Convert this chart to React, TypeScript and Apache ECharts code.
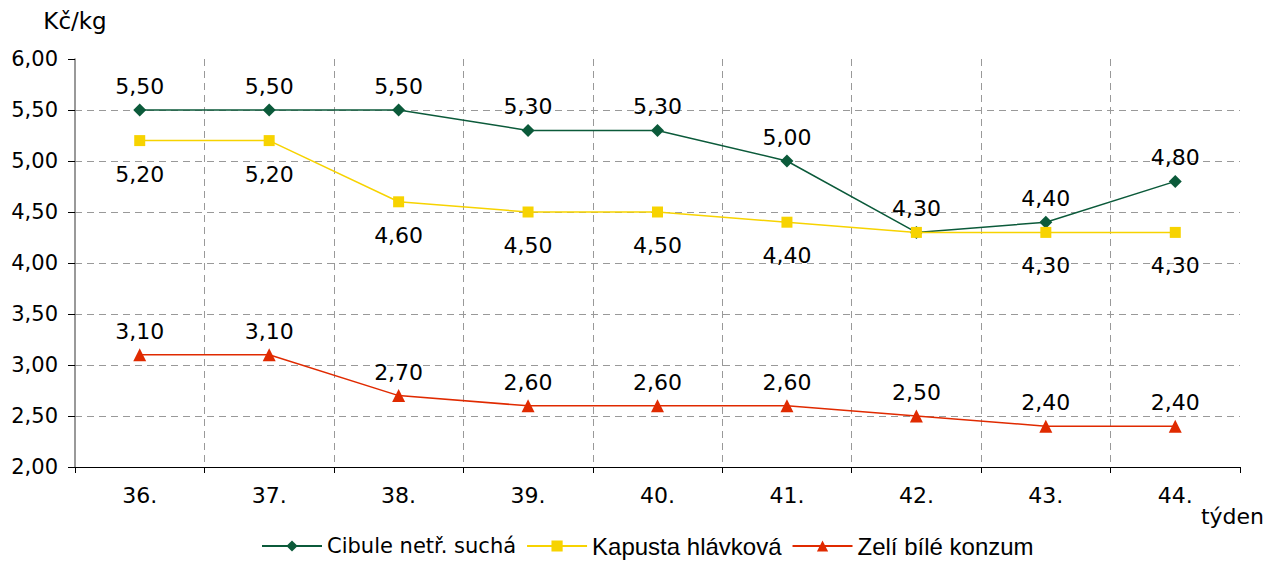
import React, { useEffect, useRef } from "react";
import * as echarts from "echarts";

const categories = ["36.", "37.", "38.", "39.", "40.", "41.", "42.", "43.", "44."];
const cibule = [5.5, 5.5, 5.5, 5.3, 5.3, 5.0, 4.3, 4.4, 4.8];
const kapusta = [5.2, 5.2, 4.6, 4.5, 4.5, 4.4, 4.3, 4.3, 4.3];
const zeli = [3.1, 3.1, 2.7, 2.6, 2.6, 2.6, 2.5, 2.4, 2.4];
const seriesNames = ["Cibule netř. suchá", "Kapusta hlávková", "Zelí bílé konzum"];
const kapustaHiddenLabels = [6];

const fmt = (v: number) => v.toFixed(2).replace(".", ",");
const FONT = "DejaVu Sans";

export default function App() {
  const ref = useRef<HTMLDivElement>(null);
  useEffect(() => {
    if (!ref.current) return;
    const chart = echarts.init(ref.current, undefined, { renderer: "svg" });
    const gridLine = { show: true, lineStyle: { color: "#999999", type: [7, 5] as any, width: 1 } };
    const lbl = (position: string, distance: number) => ({
      show: true,
      position,
      distance,
      color: "#000",
      fontSize: 22,
      fontFamily: FONT,
      formatter: (p: any) => fmt(p.value),
    });
    chart.setOption({
      animation: false,
      textStyle: { fontFamily: FONT },
      grid: { left: 75, right: 24, top: 59, height: 408 },
      legend: {
        top: 529,
        left: 256,
        itemWidth: 60,
        itemHeight: 14,
        itemGap: 10,
        textStyle: { color: "#000", fontFamily: "Liberation Sans", fontSize: 24 },
        data: [
          { name: seriesNames[0], textStyle: { fontSize: 21, fontFamily: FONT } },
          { name: seriesNames[1] },
          { name: seriesNames[2] },
        ],
      },
      xAxis: {
        type: "category",
        data: categories,
        boundaryGap: true,
        name: "týden",
        nameLocation: "end",
        nameGap: 24,
        nameTextStyle: { color: "#000", fontSize: 22, align: "right", verticalAlign: "top", padding: [38, 0, 0, 0] },
        axisLine: { lineStyle: { color: "#000", width: 1 } },
        axisTick: { show: true, length: 6, lineStyle: { color: "#000" } },
        axisLabel: { color: "#000", fontSize: 22, margin: 17 },
        splitLine: { ...gridLine, showMinLine: false, showMaxLine: false },
      },
      yAxis: {
        type: "value",
        min: 2,
        max: 6,
        interval: 0.5,
        name: "Kč/kg",
        nameLocation: "end",
        nameGap: 27,
        nameTextStyle: { color: "#000", fontSize: 23, align: "center" },
        axisLine: { show: true, lineStyle: { color: "#777", width: 1.5 } },
        axisTick: { show: true, length: 7, lineStyle: { color: "#000" } },
        axisLabel: { color: "#000", fontSize: 21, margin: 17, formatter: (v: number) => fmt(v) },
        splitLine: { ...gridLine, showMinLine: false, showMaxLine: false },
      },
      series: [
        {
          name: seriesNames[0],
          type: "line",
          data: cibule,
          symbol: "diamond",
          symbolSize: 13,
          itemStyle: { color: "#0b5a3a" },
          lineStyle: { color: "#0b5a3a", width: 1.5 },
          label: lbl("top", 6),
          z: 3,
        },
        {
          name: seriesNames[1],
          type: "line",
          data: kapusta.map((v, i) => (kapustaHiddenLabels.includes(i) ? { value: v, label: { show: false } } : v)),
          symbol: "rect",
          symbolSize: 11,
          itemStyle: { color: "#f7d300" },
          lineStyle: { color: "#f7d300", width: 1.5 },
          label: lbl("bottom", 17),
          z: 4,
        },
        {
          name: seriesNames[2],
          type: "line",
          data: zeli,
          symbol: "triangle",
          symbolSize: 13,
          itemStyle: { color: "#e02a00" },
          lineStyle: { color: "#e02a00", width: 1.5 },
          label: lbl("top", 6),
        },
      ],
    });
    return () => chart.dispose();
  }, []);
  return <div ref={ref} style={{ width: 1267, height: 561, position: "absolute", left: 0, top: 0 }} />;
}
